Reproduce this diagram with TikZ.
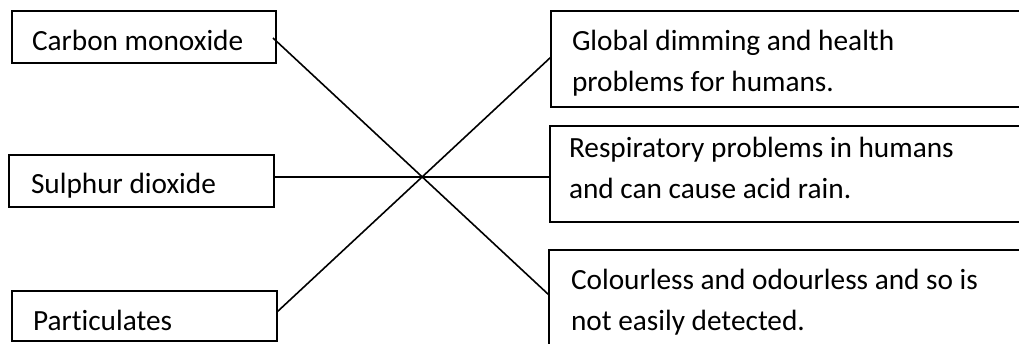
\documentclass[tikz,border=0pt]{standalone}
\usepackage{fontspec}
\setmainfont[Ligatures=NoCommon]{Carlito}
\begin{document}
\begin{tikzpicture}[x=1pt,y=-1pt,
  box/.style={draw,line width=1.8pt,inner sep=0pt,outer sep=0pt,anchor=north west},
  lbl/.style={anchor=base west,inner sep=0pt,outer sep=0pt,font=\fontsize{29.3}{41}\selectfont},
  conn/.style={line width=1.6pt}]
\useasboundingbox (0,0) rectangle (1019,343);
\clip (0,0) rectangle (1019,343);
% left boxes
\node[box,minimum width=264pt,minimum height=52pt] (co) at (12,11) {};
\node[box,minimum width=265pt,minimum height=52pt] (so) at (9,155) {};
\node[box,minimum width=265pt,minimum height=50pt] (pa) at (12,291) {};
% right boxes (extend past the picture edge)
\node[box,minimum width=480pt,minimum height=96pt] (gd) at (551,11) {};
\node[box,minimum width=480pt,minimum height=96pt] (rp) at (550,126) {};
\node[box,minimum width=481pt,minimum height=110pt] (cl) at (549,250) {};
% texts
\node[lbl] (tco) at (32,50) {Carbon monoxide};
\node[lbl] (tso) at (31,193) {Sulphur dioxide};
\node[lbl] (tpa) at (33,330) {Particulates};
\node[lbl] (tgd) at (572,50) {\begin{tabular}[t]{@{}l@{}}Global dimming and health\\problems for humans.\end{tabular}};
\node[lbl] (trp) at (569,157) {\begin{tabular}[t]{@{}l@{}}Respiratory problems in humans\\and can cause acid rain.\end{tabular}};
\node[lbl] (tcl) at (571,289) {\begin{tabular}[t]{@{}l@{}}Colourless and odourless and so is\\not easily detected.\end{tabular}};
% connector end points
\coordinate (co-out) at (273,38);
\coordinate (cl-in) at (549,295);
\coordinate (so-out) at (274,177);
\coordinate (rp-in) at (550,177);
\coordinate (pa-out) at (277,312);
\coordinate (gd-in) at (551,57);
\draw[conn] (co-out) -- (cl-in);
\draw[conn] (so-out) -- (rp-in);
\draw[conn] (pa-out) -- (gd-in);
\end{tikzpicture}
\end{document}
